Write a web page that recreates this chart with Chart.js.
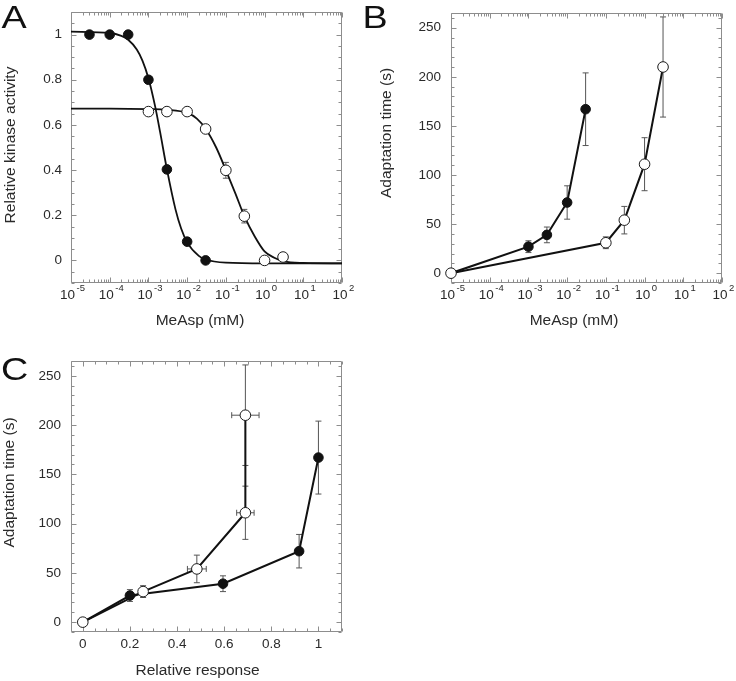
<!DOCTYPE html>
<html><head><meta charset="utf-8">
<script src="https://cdn.jsdelivr.net/npm/chart.js@4.4.0/dist/chart.umd.min.js"></script>
<style>
html,body{margin:0;padding:0;background:#fff;width:736px;height:681px;overflow:hidden;}
canvas{position:absolute;display:block;}
</style></head><body>
<canvas id="ca" width="360" height="340" style="left:0;top:0;width:360px;height:340px"></canvas>
<canvas id="cb" width="376" height="340" style="left:360px;top:0;width:376px;height:340px"></canvas>
<canvas id="cc" width="360" height="341" style="left:0;top:340px;width:360px;height:341px"></canvas>
<script>
// ---------------- DATA ----------------
// Panel A: relative kinase activity vs MeAsp (mM)
const A_filledX = [3e-5, 1e-4, 3e-4, 1e-3, 3e-3, 1e-2, 3e-2];
const A_filledY = [1.0, 1.0, 1.0, 0.80, 0.403, 0.083, 0.0];
const A_openX = [1e-3, 3e-3, 1e-2, 3e-2, 1e-1, 3e-1, 1, 3];
const A_openY = [0.659, 0.659, 0.659, 0.582, 0.399, 0.196, 0.0, 0.015];
const A_openErr = [0, 0, 0, 0, 0.035, 0.03, 0, 0];
// fitted curves
const A_fitFilledX = [1e-5, 1e-4, 2e-4, 3e-4, 5e-4, 7e-4, 1e-3, 1.5e-3, 2e-3, 3e-3, 5e-3, 7e-3, 1e-2, 2e-2, 3e-2, 1e-1, 1, 100];
const A_fitFilledY = [1.013, 1.007, 0.994, 0.977, 0.934, 0.885, 0.807, 0.680, 0.569, 0.404, 0.226, 0.141, 0.080, 0.020, 0.004, -0.010, -0.013, -0.013];
const A_fitOpenX = [1e-5, 1e-4, 1e-3, 3e-3, 1e-2, 1.78e-2, 3e-2, 5.62e-2, 1e-1, 1.78e-1, 3e-1, 5.62e-1, 1, 1.78, 3.16, 10, 100];
const A_fitOpenY = [0.672, 0.672, 0.670, 0.667, 0.653, 0.628, 0.583, 0.500, 0.400, 0.295, 0.196, 0.105, 0.040, 0.012, -0.004, -0.011, -0.013];

// Panel B: adaptation time (s) vs MeAsp (mM)
const B_filledX = [1e-5, 1e-3, 3e-3, 1e-2, 3e-2];
const B_filledY = [0, 27, 39, 72, 167];
const B_filledErr = [0, 6, 8, 17, 37];
const B_openX = [1e-5, 1e-1, 3e-1, 1, 3];
const B_openY = [0, 31, 54, 111, 210];
const B_openErr = [0, 6, 14, 27, 51];

// Panel C: adaptation time (s) vs relative response
const C_filledX = [0, 0.2, 0.595, 0.918, 1.0];
const C_filledY = [0, 27, 39, 72, 167];
const C_filledErrY = [0, 6, 8, 17, 37];
const C_openX = [0, 0.256, 0.484, 0.69, 0.69];
const C_openY = [0, 31, 54, 111, 210];
const C_openErrX = [0, 0.012, 0.04, 0.037, 0.058];
const C_openErrY = [0, 6, 14, 27, 51];

// Tick labels
const LOG_EXPONENTS = [-5, -4, -3, -2, -1, 0, 1, 2];
const A_yMajor = [0, 0.2, 0.4, 0.6, 0.8, 1];
const A_yLabels = ['0', '0.2', '0.4', '0.6', '0.8', '1'];
const T_yMajor = [0, 50, 100, 150, 200, 250];
const T_yLabels = ['0', '50', '100', '150', '200', '250'];
const C_xMajor = [0, 0.2, 0.4, 0.6, 0.8, 1];
const C_xLabels = ['0', '0.2', '0.4', '0.6', '0.8', '1'];

// ---------------- HELPERS ----------------
const FONT = '"Liberation Sans", Arial, Helvetica, sans-serif';
Chart.defaults.font.family = FONT;
Chart.defaults.color = '#2a2a2a';

function pts(xs, ys) { return xs.map((x, i) => ({x: x, y: ys[i]})); }

function logTicks() {
  const t = [];
  const lo = LOG_EXPONENTS[0], hi = LOG_EXPONENTS[LOG_EXPONENTS.length - 1];
  for (let k = lo; k < hi; k++) for (let m = 1; m < 10; m++) t.push({value: m * Math.pow(10, k), mj: m === 1, exp: k});
  t.push({value: Math.pow(10, hi), mj: true, exp: hi});
  return t;
}
function linTicks(min, max, step, majors) {
  const t = [];
  const n = Math.round((max - min) / step);
  for (let i = 0; i <= n; i++) {
    const v = Math.round((min + i * step) * 1e6) / 1e6;
    t.push({value: v, mj: majors.some(m => Math.abs(m - v) < 1e-9)});
  }
  return t;
}
function labelFor(majors, labels) {
  return function(v) {
    const i = majors.findIndex(m => Math.abs(m - v) < 1e-9);
    return i >= 0 ? labels[i] : '';
  };
}

const deco = {
  id: 'deco',
  beforeDatasetsDraw(chart, args, o) {
    const ctx = chart.ctx, a = chart.chartArea, xs = chart.scales.x, ys = chart.scales.y;
    ctx.save();
    ctx.strokeStyle = '#8d8d8d';
    ctx.lineWidth = 1;
    const L = Math.round(a.left) + 0.5, R = Math.round(a.right) - 0.5, T = Math.round(a.top) + 0.5, B = Math.round(a.bottom) - 0.5;
    ctx.beginPath();
    ctx.rect(L, T, R - L, B - T);
    xs.ticks.forEach(t => {
      const p = Math.round(xs.getPixelForValue(t.value)) + 0.5;
      const len = t.mj ? 5 : 3;
      ctx.moveTo(p, B); ctx.lineTo(p, B - len);
      ctx.moveTo(p, T); ctx.lineTo(p, T + len);
    });
    ys.ticks.forEach(t => {
      const p = Math.round(ys.getPixelForValue(t.value)) + 0.5;
      const len = t.mj ? 5 : 3;
      ctx.moveTo(L, p); ctx.lineTo(L + len, p);
      ctx.moveTo(R, p); ctx.lineTo(R - len, p);
    });
    ctx.stroke();
    // error bars
    ctx.strokeStyle = '#555';
    ctx.lineWidth = 1;
    ctx.beginPath();
    chart.data.datasets.forEach(ds => {
      if (!ds.errY && !ds.errX) return;
      ds.data.forEach((d, i) => {
        const px = xs.getPixelForValue(d.x), py = ys.getPixelForValue(d.y);
        const ey = ds.errY ? ds.errY[i] : 0;
        if (ey) {
          const t = ys.getPixelForValue(d.y + ey), b = ys.getPixelForValue(d.y - ey);
          ctx.moveTo(px, t); ctx.lineTo(px, b);
          ctx.moveTo(px - 3, t); ctx.lineTo(px + 3, t);
          ctx.moveTo(px - 3, b); ctx.lineTo(px + 3, b);
        }
        const ex = ds.errX ? ds.errX[i] : 0;
        if (ex) {
          const l = xs.getPixelForValue(d.x - ex), r = xs.getPixelForValue(d.x + ex);
          ctx.moveTo(l, py); ctx.lineTo(r, py);
          ctx.moveTo(l, py - 3); ctx.lineTo(l, py + 3);
          ctx.moveTo(r, py - 3); ctx.lineTo(r, py + 3);
        }
      });
    });
    ctx.stroke();
    ctx.restore();
  },
  afterDraw(chart, args, o) {
    const ctx = chart.ctx, a = chart.chartArea, xs = chart.scales.x;
    ctx.save();
    ctx.fillStyle = '#2a2a2a';
    if (o.logLabels) {
      xs.ticks.forEach(t => {
        if (!t.mj) return;
        const p = xs.getPixelForValue(t.value);
        const base = '10', ex = String(t.exp);
        ctx.font = '13.5px ' + FONT; const w1 = ctx.measureText(base).width;
        ctx.font = '9.5px ' + FONT; const w2 = ctx.measureText(ex).width;
        const gap = 1.5;
        const x0 = p - (w1 + gap + w2) / 2 + 1.5;
        ctx.textAlign = 'left'; ctx.textBaseline = 'alphabetic';
        ctx.font = '13.5px ' + FONT; ctx.fillText(base, x0, a.bottom + 16);
        ctx.font = '9.5px ' + FONT; ctx.fillText(ex, x0 + w1 + gap, a.bottom + 8);
      });
    }
    ctx.font = '15.5px ' + FONT;
    ctx.textAlign = 'center'; ctx.textBaseline = 'middle';
    if (o.xTitle) ctx.fillText(o.xTitle.text, o.xTitle.x, o.xTitle.y);
    if (o.yTitle) {
      ctx.save();
      ctx.translate(o.yTitle.x, o.yTitle.y);
      ctx.rotate(-Math.PI / 2);
      ctx.fillText(o.yTitle.text, 0, 0);
      ctx.restore();
    }
    if (o.letter) {
      ctx.fillStyle = '#111';
      ctx.font = '32px ' + FONT;
      ctx.textAlign = 'left'; ctx.textBaseline = 'alphabetic';
      ctx.save();
      ctx.translate(o.letter.x, o.letter.y);
      ctx.scale(1.18, 1);
      ctx.fillText(o.letter.text, 0, 0);
      ctx.restore();
    }
    ctx.restore();
  }
};

function makeOptions(cfg) {
  return {
    responsive: false, animation: false, devicePixelRatio: 1, events: [],
    layout: {padding: cfg.padding},
    plugins: {legend: {display: false}, tooltip: {enabled: false}, deco: cfg.deco},
    scales: {
      x: Object.assign({
        grid: {display: false, drawTicks: false}, border: {display: false},
        afterFit: s => { s.height = cfg.xH; },
        afterBuildTicks: s => { s.ticks = cfg.xTicks(); }
      }, cfg.x),
      y: Object.assign({
        type: 'linear',
        // label offset from the frame comes from tickLength (marks themselves are not drawn)
        grid: {display: false, drawTicks: true, tickLength: cfg.yGap}, border: {display: false},
        afterFit: s => { s.width = cfg.yW; },
        afterBuildTicks: s => { s.ticks = cfg.yTicks(); }
      }, cfg.y)
    }
  };
}

// nudge layout so the plot frame lands on the wanted box
function fitArea(chart, cfg, target) {
  for (let k = 0; k < 4; k++) {
    const a = chart.chartArea;
    const dT = target.t - a.top, dB = a.bottom - target.b, dL = target.l - a.left, dR = a.right - target.r;
    if (Math.abs(dT) + Math.abs(dB) + Math.abs(dL) + Math.abs(dR) < 0.2) break;
    cfg.padding.top += dT;
    cfg.padding.bottom += dB;
    cfg.padding.right += dR;
    cfg.yW += dL;
    chart.update();
  }
}

const filledPt = {pointRadius: 4.8, pointBackgroundColor: '#111', pointBorderColor: '#111', pointBorderWidth: 1, showLine: false, clip: false};
const openPt = {pointRadius: 5.3, pointBackgroundColor: '#fff', pointBorderColor: '#1a1a1a', pointBorderWidth: 1, showLine: false, clip: false};
const lineDs = {borderColor: '#111', borderWidth: 2, pointRadius: 0, fill: false, tension: 0};

// ---------------- PANEL A ----------------
const cfgA = {
  padding: {left: 0, right: 18, top: 12, bottom: 0},
  xH: 57, yW: 71, yGap: 9,
  xTicks: logTicks,
  yTicks: () => linTicks(-0.1, 1.1, 0.05, A_yMajor),
  x: {type: 'logarithmic', min: 1e-5, max: 100, ticks: {display: false}},
  y: {min: -0.1, max: 1.1, ticks: {autoSkip: false, padding: 0, font: {size: 13.5}, callback: labelFor(A_yMajor, A_yLabels)}},
  deco: {logLabels: true,
    xTitle: {text: 'MeAsp (mM)', x: 200, y: 321},
    yTitle: {text: 'Relative kinase activity', x: 11, y: 145},
    letter: {text: 'A', x: 1.5, y: 28}}
};
const chartA = new Chart(document.getElementById('ca'), {
  type: 'line',
  data: {datasets: [
    Object.assign({data: pts(A_openX, A_openY), errY: A_openErr}, openPt),
    Object.assign({data: pts(A_filledX, A_filledY)}, filledPt),
    Object.assign({data: pts(A_fitOpenX, A_fitOpenY), cubicInterpolationMode: 'monotone'}, lineDs, {borderWidth: 1.8}),
    Object.assign({data: pts(A_fitFilledX, A_fitFilledY), cubicInterpolationMode: 'monotone'}, lineDs, {borderWidth: 1.8})
  ]},
  options: makeOptions(cfgA),
  plugins: [deco]
});
fitArea(chartA, cfgA, {l: 71, r: 342, t: 12, b: 283});

// ---------------- PANEL B ----------------
const cfgB = {
  padding: {left: 0, right: 14, top: 13, bottom: 0},
  xH: 57, yW: 91, yGap: 10,
  xTicks: logTicks,
  yTicks: () => linTicks(-10, 260, 10, T_yMajor),
  x: {type: 'logarithmic', min: 1e-5, max: 100, ticks: {display: false}},
  y: {min: -10, max: 265, ticks: {autoSkip: false, padding: 0, font: {size: 13.5}, callback: labelFor(T_yMajor, T_yLabels)}},
  deco: {logLabels: true,
    xTitle: {text: 'MeAsp (mM)', x: 214, y: 321},
    yTitle: {text: 'Adaptation time (s)', x: 27, y: 133},
    letter: {text: 'B', x: 2.5, y: 27.5}}
};
const chartB = new Chart(document.getElementById('cb'), {
  type: 'line',
  data: {datasets: [
    Object.assign({data: pts(B_openX, B_openY), errY: B_openErr}, openPt),
    Object.assign({data: pts(B_filledX, B_filledY), errY: B_filledErr}, filledPt, {pointRadius: c => c.dataIndex === 0 ? 0 : 4.8}),
    Object.assign({data: pts(B_openX, B_openY)}, lineDs),
    Object.assign({data: pts(B_filledX, B_filledY)}, lineDs)
  ]},
  options: makeOptions(cfgB),
  plugins: [deco]
});
fitArea(chartB, cfgB, {l: 91, r: 362, t: 13, b: 283});

// ---------------- PANEL C ----------------
const cfgC = {
  padding: {left: 0, right: 18, top: 21, bottom: 0},
  xH: 49, yW: 71, yGap: 10,
  xTicks: () => linTicks(-0.05, 1.1, 0.05, C_xMajor),
  yTicks: () => linTicks(-10, 260, 10, T_yMajor),
  x: {type: 'linear', min: -0.05, max: 1.1, ticks: {autoSkip: false, maxRotation: 0, minRotation: 0, padding: 4, font: {size: 13.5}, callback: labelFor(C_xMajor, C_xLabels)}},
  y: {min: -10, max: 265, ticks: {autoSkip: false, padding: 0, font: {size: 13.5}, callback: labelFor(T_yMajor, T_yLabels)}},
  deco: {logLabels: false,
    xTitle: {text: 'Relative response', x: 197.5, y: 331},
    yTitle: {text: 'Adaptation time (s)', x: 10, y: 142.5},
    letter: {text: 'C', x: 1, y: 40}}
};
const chartC = new Chart(document.getElementById('cc'), {
  type: 'line',
  data: {datasets: [
    Object.assign({data: pts(C_openX, C_openY), errY: C_openErrY, errX: C_openErrX}, openPt),
    Object.assign({data: pts(C_filledX, C_filledY), errY: C_filledErrY}, filledPt, {pointRadius: c => c.dataIndex === 0 ? 0 : 4.8}),
    Object.assign({data: pts(C_openX, C_openY)}, lineDs),
    Object.assign({data: pts(C_filledX, C_filledY)}, lineDs)
  ]},
  options: makeOptions(cfgC),
  plugins: [deco]
});
fitArea(chartC, cfgC, {l: 71, r: 342, t: 21, b: 292});
</script>
</body></html>
